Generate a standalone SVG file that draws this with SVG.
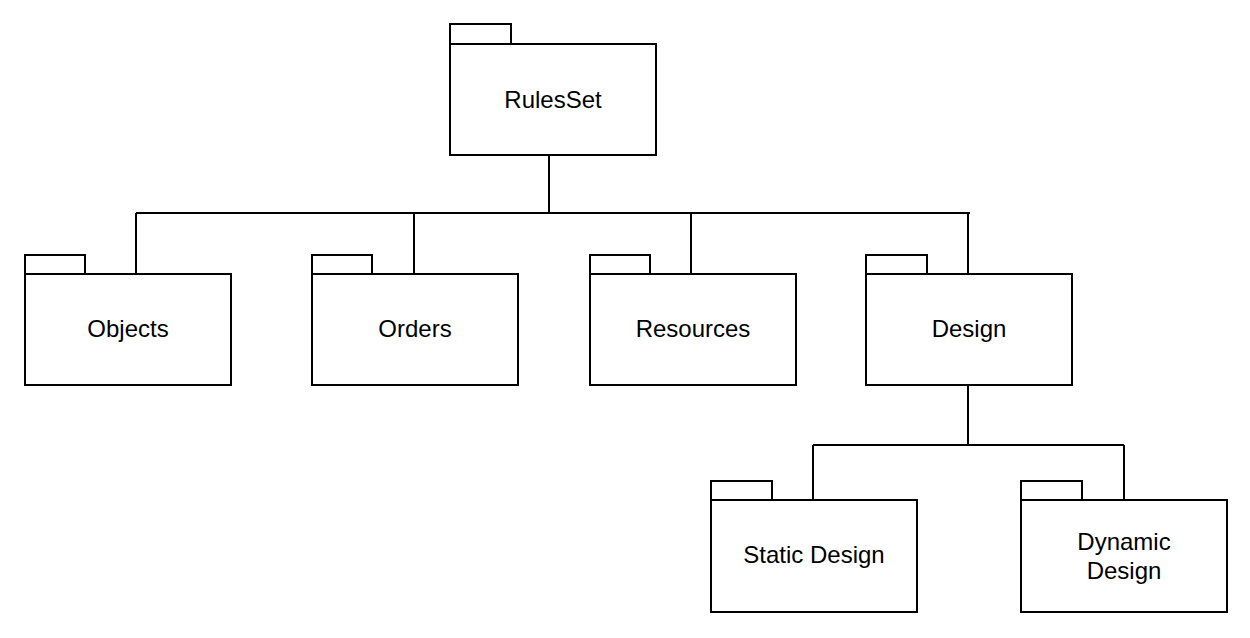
<svg xmlns="http://www.w3.org/2000/svg" width="1250" height="638" viewBox="0 0 1250 638">
<style>
.box{fill:#fff;stroke:#000;stroke-width:2}
.lbl{font-family:"Liberation Sans",Arial,sans-serif;font-size:24px;fill:#000;text-anchor:middle}
.con{fill:none;stroke:#000;stroke-width:2}
</style>
<rect width="1250" height="638" fill="#fff"/>
<g id="connectors">
<path class="con" d="M549 155V212M136 213H970M136 213V274M414 213V274M691 213V274M968 212V274"/>
<path class="con" d="M968 385V445M813 445H1124M813 445V500M1124 445V500"/>
</g>
<g id="RulesSet">
<rect class="box" x="450" y="24" width="61" height="20"/>
<rect class="box" x="450" y="44" width="206" height="111"/>
<text class="lbl" x="553" y="108">RulesSet</text>
</g>
<g id="Objects">
<rect class="box" x="25" y="255" width="60" height="19"/>
<rect class="box" x="25" y="274" width="206" height="111"/>
<text class="lbl" x="128" y="337">Objects</text>
</g>
<g id="Orders">
<rect class="box" x="312" y="255" width="60" height="19"/>
<rect class="box" x="312" y="274" width="206" height="111"/>
<text class="lbl" x="415" y="337">Orders</text>
</g>
<g id="Resources">
<rect class="box" x="590" y="255" width="60" height="19"/>
<rect class="box" x="590" y="274" width="206" height="111"/>
<text class="lbl" x="693" y="337">Resources</text>
</g>
<g id="Design">
<rect class="box" x="866" y="255" width="61" height="19"/>
<rect class="box" x="866" y="274" width="206" height="111"/>
<text class="lbl" x="969" y="337">Design</text>
</g>
<g id="StaticDesign">
<rect class="box" x="711" y="481" width="61" height="19"/>
<rect class="box" x="711" y="500" width="206" height="112"/>
<text class="lbl" x="814" y="563">Static Design</text>
</g>
<g id="DynamicDesign">
<rect class="box" x="1021" y="481" width="61" height="19"/>
<rect class="box" x="1021" y="500" width="206" height="112"/>
<text class="lbl" x="1124" y="550">Dynamic</text>
<text class="lbl" x="1124" y="579">Design</text>
</g>
</svg>
